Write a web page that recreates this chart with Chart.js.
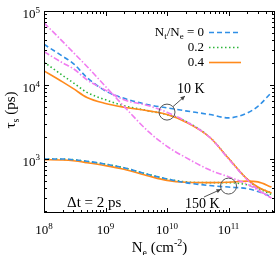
<!DOCTYPE html>
<html>
<head>
<meta charset="utf-8">
<script src="https://cdn.jsdelivr.net/npm/chart.js@4.4.1/dist/chart.umd.min.js"></script>
<style>
  html, body { margin: 0; padding: 0; background: #fff; }
  canvas { display: block; }
</style>
</head>
<body>
<canvas id="grafico" width="277" height="255"></canvas>
<script>
// ── Datos (N_e en cm^-2, tau_s en ps) ──
const nE = [1e8, 2e8, 3e8, 5e8, 1e9, 2e9, 5e9, 1e10, 2e10, 5e10, 1e11, 2e11, 3e11, 5e11];

// 10 K
const tau10Ratio0  = [35500, 24500, 19500, 12600, 8300, 6600, 5400, 4900, 4470, 3980, 3590, 4170, 5130, 7940];
const tau10Ratio02 = [20400, 13500, 10700, 7940, 6310, 5250, 4470, 3980, 3240, 1950, 1020, 537, 407, 331];
const tau10Ratio04 = [15500, 11000, 8910, 6760, 5620, 5010, 4470, 3980, 3160, 1950, 1020, 537, 417, 347];
const tau10Ref     = [28200, 19950, 16600, 11750, 8510, 6310, 5250, 4270, 3240, 1950, 1000, 525, 389, 295];

// 150 K
const tau150Ratio0  = [1000, 1000, 977, 933, 851, 759, 617, 537, 479, 437, 417, 398, 363, 309];
const tau150Ratio02 = [1000, 989, 977, 923, 851, 759, 617, 537, 490, 479, 479, 447, 407, 347];
const tau150Ratio04 = [977, 966, 944, 891, 813, 724, 589, 513, 484, 479, 484, 501, 490, 417];
const tau150Ref     = [69200, 38900, 27500, 17800, 9550, 5130, 2340, 1480, 1050, 708, 575, 457, 380, 295];

const etiquetasLeyenda = ['0', '0.2', '0.4'];
const expX = [8, 9, 10, 11];
const expY = [3, 4, 5];

const AZUL = '#2f8fe6', VERDE = '#2db53a', NARANJA = '#ff8a1c', MAGENTA = '#f07cf0';
const FUENTE = '"Liberation Serif", "DejaVu Serif", serif';

function puntos(arr) {
    return nE.map((x, i) => ({ x, y: arr[i] }));
}

function serie(arr, color, dash) {
    return {
        data: puntos(arr),
        borderColor: color,
        borderWidth: 1.6,
        borderDash: dash,
        pointRadius: 0,
        cubicInterpolationMode: 'monotone',
        fill: false,
    };
}

// ── Texto con subíndices / superíndices: partes [texto, 'n'|'sub'|'sup'] ──
function anchoPartes(ctx, partes, tam) {
    let w = 0;
    partes.forEach(([t, m]) => {
        ctx.font = `${m === 'n' ? tam : Math.round(tam * 0.68)}px ${FUENTE}`;
        w += ctx.measureText(t).width;
    });
    return w;
}

function dibujarPartes(ctx, partes, x, y, tam) {
    let cx = x;
    partes.forEach(([t, m]) => {
        const peq = Math.round(tam * 0.68);
        ctx.font = `${m === 'n' ? tam : peq}px ${FUENTE}`;
        const dy = m === 'sup' ? -tam * 0.42 : (m === 'sub' ? tam * 0.25 : 0);
        ctx.fillText(t, cx, y + dy);
        cx += ctx.measureText(t).width;
    });
}

function flecha(ctx, x1, y1, x2, y2) {
    const ang = Math.atan2(y2 - y1, x2 - x1);
    ctx.beginPath();
    ctx.moveTo(x1, y1);
    ctx.lineTo(x2, y2);
    ctx.stroke();
    ctx.beginPath();
    ctx.moveTo(x2, y2);
    ctx.lineTo(x2 - 5 * Math.cos(ang - 0.45), y2 - 5 * Math.sin(ang - 0.45));
    ctx.lineTo(x2 - 5 * Math.cos(ang + 0.45), y2 - 5 * Math.sin(ang + 0.45));
    ctx.closePath();
    ctx.fill();
}

// ── Marco, ticks hacia dentro, etiquetas, leyenda y anotaciones ──
const decoracion = {
    id: 'decoracion',
    afterDraw(chart) {
        const { ctx, chartArea: a, scales: { x, y } } = chart;
        ctx.save();
        ctx.strokeStyle = '#000';
        ctx.fillStyle = '#000';
        ctx.lineWidth = 1;
        ctx.strokeRect(a.left + 0.5, a.top + 0.5, a.right - a.left - 1, a.bottom - a.top - 1);

        ctx.beginPath();
        for (let e = 8; e <= 11; e++) {
            for (let k = 1; k <= 9; k++) {
                const v = k * Math.pow(10, e);
                if (v > x.max) break;
                const px = Math.round(x.getPixelForValue(v)) + 0.5;
                const len = k === 1 ? 5 : 3;
                ctx.moveTo(px, a.bottom); ctx.lineTo(px, a.bottom - len);
                ctx.moveTo(px, a.top); ctx.lineTo(px, a.top + len);
            }
        }
        for (let e = 2; e <= 5; e++) {
            for (let k = 1; k <= 9; k++) {
                const v = k * Math.pow(10, e);
                if (v < y.min || v > y.max) continue;
                const py = Math.round(y.getPixelForValue(v)) + 0.5;
                const len = k === 1 ? 5 : 3;
                ctx.moveTo(a.left, py); ctx.lineTo(a.left + len, py);
                ctx.moveTo(a.right, py); ctx.lineTo(a.right - len, py);
            }
        }
        ctx.stroke();

        ctx.textBaseline = 'alphabetic';
        ctx.textAlign = 'left';
        // etiquetas eje X
        expX.forEach(e => {
            const partes = [['10', 'n'], [String(e), 'sup']];
            const w = anchoPartes(ctx, partes, 13);
            dibujarPartes(ctx, partes, x.getPixelForValue(Math.pow(10, e)) - w / 2, a.bottom + 21, 13);
        });
        // etiquetas eje Y
        expY.forEach(e => {
            const partes = [['10', 'n'], [String(e), 'sup']];
            const w = anchoPartes(ctx, partes, 13);
            dibujarPartes(ctx, partes, a.left - 4 - w, y.getPixelForValue(Math.pow(10, e)) + 7, 13);
        });

        // título eje X
        const tituloX = [['N', 'n'], ['e', 'sub'], [' (cm', 'n'], ['-2', 'sup'], [')', 'n']];
        const wx = anchoPartes(ctx, tituloX, 15);
        dibujarPartes(ctx, tituloX, (a.left + a.right) / 2 - wx / 2, 252, 15);

        // título eje Y
        const tituloY = [['τ', 'n'], ['s', 'sub'], [' (ps)', 'n']];
        const wy = anchoPartes(ctx, tituloY, 15);
        ctx.save();
        ctx.translate(15, 110);
        ctx.rotate(-Math.PI / 2);
        dibujarPartes(ctx, tituloY, -wy / 2, 0, 15);
        ctx.restore();

        // leyenda
        const colores = [AZUL, VERDE, NARANJA];
        const dashes = [[5, 3], [1.5, 2.5], []];
        etiquetasLeyenda.forEach((et, i) => {
            const ly = 32 + i * 15;
            const partes = i === 0
                ? [['N', 'n'], ['t', 'sub'], ['/N', 'n'], ['e', 'sub'], [' = ' + et, 'n']]
                : [[et, 'n']];
            const w = anchoPartes(ctx, partes, 13);
            ctx.fillStyle = '#000';
            dibujarPartes(ctx, partes, 204 - w, ly + 4, 13);
            ctx.save();
            ctx.strokeStyle = colores[i];
            ctx.lineWidth = 1.6;
            ctx.setLineDash(dashes[i]);
            ctx.beginPath();
            ctx.moveTo(209, ly + 0.5);
            ctx.lineTo(241, ly + 0.5);
            ctx.stroke();
            ctx.restore();
        });

        // anotaciones: círculos + flechas
        ctx.strokeStyle = '#555';
        ctx.fillStyle = '#444';
        ctx.lineWidth = 1;
        const c10 = { x: x.getPixelForValue(1e10), y: y.getPixelForValue(4300) };
        const c150 = { x: x.getPixelForValue(1e11), y: y.getPixelForValue(430) };
        [c10, c150].forEach(c => {
            ctx.beginPath();
            ctx.arc(c.x, c.y, 8, 0, Math.PI * 2);
            ctx.stroke();
        });
        flecha(ctx, c10.x + 6, c10.y - 5.5, 185, 96);
        flecha(ctx, 204, 197, c150.x - 7.5, c150.y + 3.2);

        ctx.fillStyle = '#000';
        ctx.font = `14px ${FUENTE}`;
        ctx.fillText('10 K', 177, 93);
        ctx.fillText('150 K', 185, 208);
        ctx.font = `15px ${FUENTE}`;
        ctx.fillText('Δt = 2 ps', 67, 207);
        ctx.restore();
    },
};

new Chart(document.getElementById('grafico'), {
    type: 'line',
    data: {
        datasets: [
            serie(tau10Ref, MAGENTA, [6, 2, 1.5, 2]),
            serie(tau150Ref, MAGENTA, [6, 2, 1.5, 2]),
            serie(tau10Ratio0, AZUL, [5, 3]),
            serie(tau150Ratio0, AZUL, [5, 3]),
            serie(tau10Ratio04, NARANJA, []),
            serie(tau150Ratio04, NARANJA, []),
            serie(tau10Ratio02, VERDE, [1.5, 2.5]),
            serie(tau150Ratio02, VERDE, [1.5, 2.5]),
        ],
    },
    options: {
        responsive: false,
        animation: false,
        devicePixelRatio: 1,
        layout: { padding: { top: 11, right: 2, left: 0, bottom: 0 } },
        plugins: { legend: { display: false }, tooltip: { enabled: false } },
        scales: {
            x: {
                type: 'logarithmic',
                min: 1e8,
                max: 5.7e11,
                grid: { display: false },
                border: { display: false },
                ticks: { display: false },
                afterFit: s => { s.height = 42; },
            },
            y: {
                type: 'logarithmic',
                min: 186,
                max: 1e5,
                grid: { display: false },
                border: { display: false },
                ticks: { display: false },
                afterFit: s => { s.width = 44; },
            },
        },
    },
    plugins: [decoracion],
});
</script>
</body>
</html>
